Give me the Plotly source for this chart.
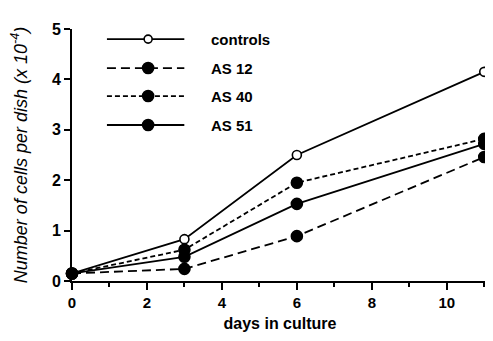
import plotly.graph_objects as go

days = [0, 3, 6, 11]
controls = [0.15, 0.83, 2.5, 4.15]
as12 = [0.15, 0.24, 0.89, 2.46]
as40 = [0.15, 0.62, 1.95, 2.82]
as51 = [0.15, 0.48, 1.53, 2.72]
names = ["controls", "AS 12", "AS 40", "AS 51"]
x_ticks = [0, 2, 4, 6, 8, 10]
y_ticks = [0, 1, 2, 3, 4, 5]

series = [controls, as12, as40, as51]
dashes = ["solid", "9px,5px", "5px,3px", "solid"]
open_marker = [True, False, False, False]

fig = go.Figure()
for vals, dash, op in zip(series, dashes, open_marker):
    fig.add_trace(go.Scatter(
        x=days, y=vals, mode="lines+markers", cliponaxis=False,
        line=dict(color="black", width=1.8, dash=dash),
        marker=dict(symbol="circle", size=9 if op else 11,
                    color="white" if op else "black",
                    line=dict(color="black", width=1.6)),
        showlegend=False))

# manual legend on an overlay axis
leg_y = [0.96, 0.845, 0.734, 0.619]
for i, (dash, op, nm) in enumerate(zip(dashes, open_marker, names)):
    fig.add_trace(go.Scatter(
        x=[0.084, 0.27], y=[leg_y[i], leg_y[i]], mode="lines",
        xaxis="x2", yaxis="y2", showlegend=False, cliponaxis=False,
        line=dict(color="black", width=1.8, dash=dash)))
    fig.add_trace(go.Scatter(
        x=[0.183], y=[leg_y[i]], mode="markers",
        xaxis="x2", yaxis="y2", showlegend=False, cliponaxis=False,
        marker=dict(symbol="circle", size=8 if op else 11,
                    color="white" if op else "black",
                    line=dict(color="black", width=1.6))))
    fig.add_annotation(x=0.33, y=leg_y[i], xref="x2", yref="y2", text="<b>" + nm + "</b>",
                       showarrow=False, xanchor="left", yanchor="middle",
                       font=dict(size=15, color="black"))

fig.update_layout(
    width=485, height=333,
    margin=dict(l=64, r=5, t=21, b=60),
    paper_bgcolor="white", plot_bgcolor="white",
    font=dict(family="Liberation Sans, Arial", color="black", size=14),
    xaxis=dict(range=[0, 11.1], tickvals=x_ticks, showgrid=False, zeroline=False,
               showline=True, linecolor="black", linewidth=2,
               ticks="outside", ticklen=7, tickwidth=1.5, tickcolor="black",
               minor=dict(tickvals=[1, 3, 5, 7, 9, 11], ticks="outside", ticklen=4, tickwidth=1.5, tickcolor="black"),
               tickfont=dict(size=15, weight="bold"),
               title=dict(text="<b>days in culture</b>", font=dict(size=16), standoff=8)),
    yaxis=dict(range=[0, 5], tickvals=y_ticks, showgrid=False, zeroline=False,
               showline=True, linecolor="black", linewidth=2,
               ticks="outside", ticklen=6, tickwidth=1.5, tickcolor="black",
               tickfont=dict(size=16, weight="bold"),
               title=dict(text="<i>Number of cells per dish (x 10<sup>-4</sup>)</i>", font=dict(size=18), standoff=22)),
    xaxis2=dict(range=[0, 1], overlaying="x", visible=False, anchor="y2"),
    yaxis2=dict(range=[0, 1], overlaying="y", visible=False, anchor="x2"),
)

fig.write_html("out.html")
